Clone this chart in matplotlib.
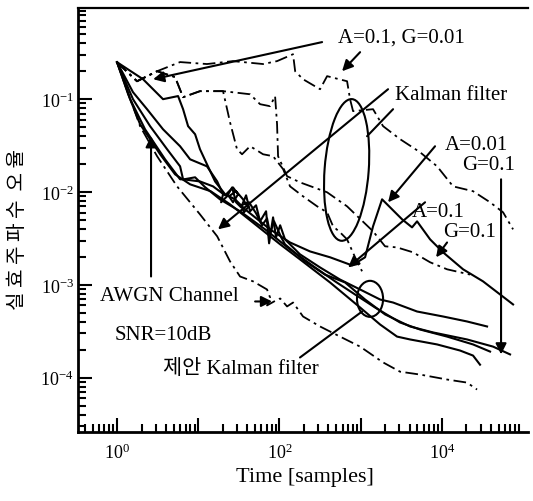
import numpy as np
import matplotlib
matplotlib.use("Agg")
import matplotlib.pyplot as plt
from matplotlib.patches import Ellipse
from matplotlib.ticker import FixedLocator, LogLocator, FuncFormatter, NullFormatter

plt.rcParams['font.family'] = ['Liberation Serif', 'Noto Sans CJK KR']
plt.rcParams['mathtext.fontset'] = 'custom'
plt.rcParams['mathtext.rm'] = 'Liberation Serif'
plt.rcParams['mathtext.it'] = 'Liberation Serif:italic'

# conventional Kalman filter, A=0.1 G=0.01
kf1_x = [1, 1.76, 3.11, 5.97, 12.8, 26.8, 62.8, 93.4, 147, 156, 195, 316, 386, 680, 740, 806,
         1421, 1888, 3055, 5393, 8736, 13740, 24210, 39240, 56760, 75340]
kf1_y = [0.25, 0.156, 0.200, 0.251, 0.239, 0.257, 0.239, 0.257, 0.305, 0.200, 0.164, 0.128, 0.177,
         0.156, 0.100, 0.0743, 0.078, 0.0512, 0.0371, 0.0268, 0.0189, 0.0115, 0.0102, 0.00775,
         0.00604, 0.00396]

# conventional Kalman filter, A=0.01 G=0.1
kf2_x = [1, 1.76, 3.11, 5.18, 6.5, 10.5, 20.2, 43.4, 57.7, 76.6, 88.3, 93.4, 96.1, 124, 179, 386,
         680, 1421, 1997, 2806, 4417, 7161, 11590, 22230]
kf2_y = [0.25, 0.156, 0.200, 0.173, 0.105, 0.122, 0.122, 0.113, 0.0883, 0.084, 0.108, 0.0537,
         0.0243, 0.0148, 0.0127, 0.00993, 0.00701, 0.00377, 0.0026, 0.00253, 0.00224, 0.00175,
         0.00147, 0.00129]

# conventional Kalman filter, A=0.1 G=0.1
kf3_x = [1, 1.76, 3.11, 5.18, 6.5, 10.5, 20.2, 24.6, 30.0, 34.6, 43.4, 50.1, 62.8, 83.4, 111, 135,
         195, 291, 386, 457, 557, 680, 853, 1040]
kf3_y = [0.25, 0.156, 0.200, 0.173, 0.105, 0.122, 0.122, 0.0565, 0.0289, 0.0255, 0.0311, 0.0289,
         0.0255, 0.0243, 0.0176, 0.0115, 0.00899, 0.00701, 0.00604, 0.00427, 0.00368, 0.00309,
         0.00198, 0.0014]

# AWGN channel reference
awgn_x = [1, 1.92, 3.11, 5.48, 10.5, 17.1, 24.6, 32.7, 47.3, 70.3, 76.6, 70.3, 85.8, 102, 124, 147,
          195, 316, 557, 984, 1888, 3055, 5393, 11590, 20420, 27120]
awgn_y = [0.25, 0.0512, 0.0243, 0.0115, 0.00574, 0.00333, 0.00179, 0.00123, 0.00109, 0.000891,
          0.000731, 0.0006, 0.000662, 0.000713, 0.000585, 0.000645, 0.000456, 0.000356, 0.000277,
          0.000216, 0.000146, 0.000116, 0.000108, 9.55e-5, 8.85e-5, 7.45e-5]

# proposed Kalman filter runs
pk1_x = [1, 2.09, 3.68, 5.64, 6.5, 7.49, 9.14, 10.5, 12.8, 16.1, 21.4, 28.4, 37.7, 50.1, 76.6, 135,
         238, 420, 784, 1133, 1421, 1835, 3236, 4295, 4950, 7161, 10350, 18250, 32140, 75340]
pk1_y = [0.25, 0.164, 0.1, 0.108, 0.078, 0.0512, 0.0419, 0.0289, 0.0199, 0.013, 0.00945, 0.00834,
         0.00651, 0.00533, 0.00396, 0.00286, 0.00229, 0.00198, 0.00162, 0.00198, 0.00427, 0.00834,
         0.00508, 0.00416, 0.00483, 0.00309, 0.00224, 0.00147, 0.00109, 0.000615]

pk2_x = [1, 1.57, 2.34, 3.68, 5.97, 7.93, 12.8, 17.1, 20.2, 19.1, 22.6, 26.1, 29.2, 33.7, 38.8, 43.4,
         51.5, 57.7, 68.4, 74.5, 83.4, 90.8, 102, 117, 179, 316, 557, 984, 1734, 2506, 4950, 10350,
         20420, 36030]
pk2_y = [0.25, 0.119, 0.078, 0.0474, 0.0311, 0.0225, 0.0189, 0.013, 0.00945, 0.00775, 0.00899,
         0.0112, 0.00775, 0.00684, 0.00921, 0.0062, 0.00719, 0.00483, 0.0062, 0.0028, 0.00533,
         0.00325, 0.00438, 0.00309, 0.00213, 0.00154, 0.00114, 0.000891, 0.000695, 0.000645,
         0.000516, 0.000456, 0.000403, 0.000356]

pk3_x = [1, 1.57, 2.55, 4.13, 5.97, 6.5, 10.5, 15.2, 21.4, 26.8, 30.9, 26.8, 23.9, 29.2, 35.6, 41.0,
         36.6, 33.7, 42.2, 51.5, 61.0, 70.3, 76.6, 85.8, 105, 117, 207, 364, 643, 1133, 1997, 4058,
         7798, 20420, 42730, 69180]
pk3_y = [0.25, 0.1, 0.0512, 0.0289, 0.0189, 0.0137, 0.013, 0.0115, 0.00921, 0.0112, 0.00945,
         0.00775, 0.00899, 0.0102, 0.00834, 0.00684, 0.00604, 0.00719, 0.00775, 0.00589, 0.00438,
         0.0052, 0.00358, 0.00483, 0.00325, 0.00273, 0.00179, 0.00129, 0.00106, 0.000695, 0.00048,
         0.000356, 0.000307, 0.000258, 0.000216, 0.000178]

pk4_x = [1, 1.45, 2.21, 3.9, 5.97, 6.68, 9.14, 12.1, 18.5, 32.7, 66.5, 135, 274, 484, 853, 1504,
         3055, 5393, 11590, 24210, 39240]
pk4_y = [0.25, 0.1, 0.0474, 0.0225, 0.0137, 0.0137, 0.0144, 0.0113, 0.00834, 0.0062, 0.00396,
         0.00241, 0.00154, 0.00109, 0.000787, 0.00057, 0.000393, 0.00033, 0.000277, 0.000228,
         0.000191]

pk5_x = [1, 1.37, 1.92, 3.39, 5.18, 7.93, 14.2, 24.6, 50.1, 102, 179, 420, 984, 1734, 2806, 4058,
         8736, 16760, 24210, 29510]
pk5_y = [0.25, 0.113, 0.0537, 0.0255, 0.0155, 0.0121, 0.0102, 0.00737, 0.00449, 0.00273, 0.00188,
         0.00106, 0.00057, 0.000374, 0.000277, 0.000258, 0.000228, 0.000196, 0.000173, 0.000138]

x_major = [1, 10, 100, 1000, 10000]
y_major = [1e-4, 1e-3, 1e-2, 1e-1]

fig = plt.figure(figsize=(5.33, 5.02), dpi=100)
ax = fig.add_axes([0.1463, 0.1375, 0.8443, 0.8446])

dashdot = (0, (7, 2.5, 1.5, 2.5))
for xs, ys in [(kf1_x, kf1_y), (kf2_x, kf2_y), (kf3_x, kf3_y), (awgn_x, awgn_y)]:
    ax.plot(xs, ys, color='black', lw=1.3, linestyle=dashdot)
for xs, ys in [(pk1_x, pk1_y), (pk2_x, pk2_y), (pk3_x, pk3_y), (pk4_x, pk4_y), (pk5_x, pk5_y)]:
    ax.plot(xs, ys, color='black', lw=1.5, solid_joinstyle='round')

ax.set_xscale('log')
ax.set_yscale('log')
ax.set_xlim(0.33, 1.15e5)
ax.set_ylim(2.6e-5, 0.96)

ax.xaxis.set_major_locator(FixedLocator(x_major))
ax.xaxis.set_major_formatter(FuncFormatter(
    lambda v, pos: '$10^{%d}$' % round(np.log10(v)) if round(np.log10(v)) % 2 == 0 else ''))
ax.xaxis.set_minor_locator(LogLocator(base=10, subs=np.arange(2, 10), numticks=100))
ax.xaxis.set_minor_formatter(NullFormatter())
ax.yaxis.set_major_locator(FixedLocator(y_major))
ax.yaxis.set_major_formatter(FuncFormatter(lambda v, pos: '$10^{%d}$' % round(np.log10(v))))
ax.yaxis.set_minor_locator(LogLocator(base=10, subs=np.arange(2, 10), numticks=100))
ax.yaxis.set_minor_formatter(NullFormatter())

ax.tick_params(which='both', direction='in', width=1.5, top=False, right=False, labelsize=13)
ax.tick_params(which='major', length=10)
ax.tick_params(which='minor', length=6)
ax.tick_params(axis='x', which='major', pad=8)
ax.tick_params(axis='y', which='major', pad=3)
ax.spines['right'].set_visible(False)
ax.spines['top'].set_linewidth(1.6)
ax.spines['left'].set_linewidth(2.0)
ax.spines['bottom'].set_linewidth(2.0)

ax.set_xlabel('Time [samples]', fontsize=16)
ax.xaxis.set_label_coords(0.504, -0.083)
ax.set_ylabel('실 효 주 파 수  오 율', fontsize=14.5, family=['Noto Sans CJK KR'])
ax.yaxis.set_label_coords(-0.112, 0.479)

# annotations
arrow = dict(arrowstyle='-|>', color='black', lw=1.5, mutation_scale=16, shrinkA=0, shrinkB=0)
line = dict(arrowstyle='-', color='black', lw=1.5, shrinkA=0, shrinkB=0)

ax.annotate('', xy=(2.78, 0.164), xytext=(335, 0.412), arrowprops=arrow)
ax.annotate('', xy=(590, 0.200), xytext=(984, 0.321), arrowprops=arrow)
ax.annotate('', xy=(17.5, 0.00396), xytext=(2174, 0.128), arrowprops=arrow)
ax.annotate('', xy=(1199, 0.0399), xytext=(2506, 0.078), arrowprops=line)
ax.annotate('', xy=(2174, 0.00775), xytext=(8240, 0.0311), arrowprops=arrow)
ax.annotate('', xy=(53580, 0.000178), xytext=(53580, 0.0137), arrowprops=arrow)
ax.annotate('', xy=(700, 0.00154), xytext=(6210, 0.00775), arrowprops=arrow)
ax.annotate('', xy=(8490, 0.00198), xytext=(11590, 0.00286), arrowprops=arrow)
ax.annotate('', xy=(81.1, 0.000662), xytext=(50.1, 0.000662), arrowprops=arrow)
ax.annotate('', xy=(2.62, 0.0399), xytext=(2.62, 0.00123), arrowprops=arrow)
ax.annotate('', xy=(1040, 0.000516), xytext=(179, 0.000165), arrowprops=line)

ax.add_patch(Ellipse((0.597, 0.618), 0.098, 0.335, angle=-4, transform=ax.transAxes,
                     fill=False, lw=1.5, color='black'))
ax.add_patch(Ellipse((0.649, 0.314), 0.058, 0.085, transform=ax.transAxes,
                     fill=False, lw=1.5, color='black'))

txt = dict(transform=ax.transAxes, fontsize=15, ha='left', va='center')
ax.text(0.578, 0.932, 'A=0.1, G=0.01', **txt)
ax.text(0.704, 0.797, 'Kalman filter', **txt)
ax.text(0.816, 0.677, 'A=0.01', **txt)
ax.text(0.853, 0.632, 'G=0.1', **txt)
ax.text(0.742, 0.521, 'A=0.1', **txt)
ax.text(0.811, 0.474, 'G=0.1', **txt)
ax.text(0.049, 0.323, 'AWGN Channel', **txt)
ax.text(0.082, 0.231, 'SNR=10dB', **txt)
ax.text(0.189, 0.149, '제안 Kalman filter', **txt)

fig.savefig('out.png', dpi=100)
